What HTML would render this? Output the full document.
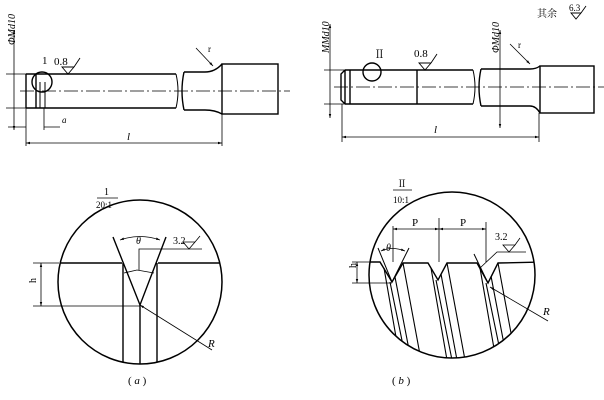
<!DOCTYPE html>
<html><head><meta charset="utf-8"><style>
body{margin:0;background:#fff;}
svg{display:block;}
text{font-family:"Liberation Serif","Noto Serif CJK SC",serif;fill:#000;}
</style></head><body>
<svg width="604" height="400" viewBox="0 0 604 400" xmlns="http://www.w3.org/2000/svg">
<defs>
<marker id="ar" viewBox="0 0 10 10" refX="10" refY="5" markerWidth="7" markerHeight="5" orient="auto-start-reverse"><path d="M0,2 L10,5 L0,8z" fill="#000"/></marker>
<clipPath id="cb"><circle cx="452" cy="275" r="83"/></clipPath>
<clipPath id="ca"><circle cx="140" cy="282" r="82"/></clipPath>
</defs>
<g stroke="#000" fill="none" stroke-width="1.4">
<!-- (a) top shaft -->
<path d="M26,74 L176,74 M26,108 L176,108 M26,74 L26,108 M36,74 L36,108"/>
<path d="M176,74 Q180,91 176,108" stroke-width="1"/>
<path d="M184,72 Q180,91 184,110"/>
<path d="M184,72 L205,72 Q215,72 222,64 M184,110 L205,110 Q215,110 222,114"/>
<rect x="222" y="64" width="56" height="50"/>
<circle cx="42" cy="82" r="10"/>
<path d="M40,82 L40,108 M45,82 L45,108" stroke-width="1"/>
<path d="M20,91 L290,91" stroke-width="0.8" stroke-dasharray="14,3,2,3"/>
<path d="M14,30 L14,130" stroke-width="0.8" marker-start="url(#ar)" marker-end="url(#ar)"/>
<path d="M6,74 L26,74 M6,108 L26,108" stroke-width="0.8"/>
<path d="M26,108 L26,146 M222,114 L222,146 M44,108 L44,130" stroke-width="0.8"/>
<path d="M8,127 L26,127 M44,127 L60,127" stroke-width="0.8"/>
<path d="M26,143 L222,143" stroke-width="0.8" marker-start="url(#ar)" marker-end="url(#ar)"/>
<path d="M196,48 L213,66" stroke-width="0.8" marker-end="url(#ar)"/>
<path d="M62,67 L74,67 L68,74 Z M74,67 L80,58" stroke-width="0.9"/>
<!-- (b) top shaft -->
<path d="M345,70 L473,70 M345,104 L473,104 M345,70 L345,104 M350,70 L350,104 M417,70 L417,104 M345,70 L341,74 L341,100 L345,104"/>
<path d="M473,70 Q477,87 473,104" stroke-width="1"/>
<path d="M481,69 Q477,87 481,106"/>
<path d="M481,69 L530,69 Q536,69 540,66 M481,106 L530,106 Q536,106 540,113"/>
<rect x="540" y="66" width="54" height="47"/>
<circle cx="372" cy="72" r="9"/>
<path d="M334,87 L604,87" stroke-width="0.8" stroke-dasharray="14,3,2,3"/>
<path d="M330,24 L330,118" stroke-width="0.8" marker-start="url(#ar)" marker-end="url(#ar)"/>
<path d="M324,70 L345,70 M324,104 L345,104" stroke-width="0.8"/>
<path d="M500,30 L500,128" stroke-width="0.8" marker-start="url(#ar)" marker-end="url(#ar)"/>
<path d="M342,104 L342,142 M539,113 L539,142" stroke-width="0.8"/>
<path d="M342,137 L539,137" stroke-width="0.8" marker-start="url(#ar)" marker-end="url(#ar)"/>
<path d="M510,44 L530,64" stroke-width="0.8" marker-end="url(#ar)"/>
<path d="M419,63 L431,63 L425,70 Z M431,63 L437,54" stroke-width="0.9"/>
<path d="M571,13 L581,13 L576,19 Z M581,13 L586,6" stroke-width="0.9"/>
<!-- (a) detail -->
<circle cx="140" cy="282" r="82" stroke-width="1.5"/>
<g clip-path="url(#ca)">
<path d="M56,263 L122,263 M158,263 L224,263"/>
<path d="M113,237 L140,305 L166,237"/>
<path d="M123,263 L123,366 M140,305 L140,366 M157,263 L157,366"/>
</g>
<path d="M120,240 Q140,233 160,240" stroke-width="0.8" marker-start="url(#ar)" marker-end="url(#ar)"/>
<path d="M124,273 L137,270 L154,273" stroke-width="0.8"/>
<path d="M139,270 L139,249 L202,249" stroke-width="0.8"/>
<path d="M183,242 L195,242 L189,249 Z M195,242 L200,236" stroke-width="0.8"/>
<path d="M33,263 L59,263 M33,306 L140,306" stroke-width="0.8"/>
<path d="M41,263 L41,306" stroke-width="0.8" marker-start="url(#ar)" marker-end="url(#ar)"/>
<path d="M212,350 L140,305" stroke-width="0.8" marker-end="url(#ar)"/>
<path d="M97,198 L118,198" stroke-width="0.8"/>
<!-- (b) detail -->
<circle cx="452" cy="275" r="83" stroke-width="1.5"/>
<g clip-path="url(#cb)">
<path d="M360,262 L380,262 L392,282 L403,263 L428,263 L438,280 L447,263 L477,263 L488,283 L498,263 L545,262"/>
<g stroke-width="1.1">
<path d="M384,268 L400,360 M390,282 L406,360 M395,277 L411,360 M403,263 L421,360"/>
<path d="M431,268 L447,360 M436,280 L452,360 M441,274 L457,360 M447,263 L465,360"/>
<path d="M480,268 L496,360 M486,283 L502,360 M491,276 L507,360 M498,263 L516,360"/>
</g>
</g>
<path d="M392,282 L378,248 M392,282 L409,248 M488,283 L474,254" stroke-width="1"/>
<path d="M381,251 Q392,246 405,251" stroke-width="0.8" marker-start="url(#ar)" marker-end="url(#ar)"/>
<path d="M393,226 L393,262 M439,218 L439,262 M486,222 L486,262" stroke-width="0.8"/>
<path d="M393,229 L439,229" stroke-width="0.8" marker-start="url(#ar)" marker-end="url(#ar)"/>
<path d="M439,229 L486,229" stroke-width="0.8" marker-start="url(#ar)" marker-end="url(#ar)"/>
<path d="M480,268 L497,252 L526,252" stroke-width="0.8"/>
<path d="M503,245 L515,245 L509,252 Z M515,245 L520,238" stroke-width="0.8"/>
<path d="M352,262 L372,262 M352,283 L392,283" stroke-width="0.8"/>
<path d="M357,262 L357,283" stroke-width="0.8" marker-start="url(#ar)" marker-end="url(#ar)"/>
<path d="M548,321 L490,287" stroke-width="0.8" marker-end="url(#ar)"/>
<path d="M393,190 L412,190" stroke-width="0.8"/>
</g>
<g font-size="11">
<text x="20" y="60" transform="rotate(-90 10 55)" font-style="italic" font-size="10">ΦMd10</text>
<text x="42" y="64" font-size="11">1</text>
<text x="54" y="65" font-size="11">0.8</text>
<text x="62" y="123" font-style="italic" font-size="9">a</text>
<text x="127" y="140" font-style="italic">l</text>
<text x="208" y="52" font-size="9">r</text>
<text x="330" y="62" transform="rotate(-90 325 58)" font-style="italic" font-size="10">MMd10</text>
<text x="500" y="62" transform="rotate(-90 495 58)" font-style="italic" font-size="10">ΦMd10</text>
<text x="374" y="58" font-size="11">Ⅱ</text>
<text x="414" y="57" font-size="11">0.8</text>
<text x="434" y="133" font-style="italic">l</text>
<text x="518" y="48" font-size="9">r</text>
<text x="537" y="17" font-size="10">其余</text>
<text x="569" y="11" font-size="9">6.3</text>
<text x="104" y="195" font-size="10">1</text>
<text x="96" y="208" font-size="9">20:1</text>
<text x="136" y="244" font-style="italic" font-size="10">θ</text>
<text x="173" y="244" font-size="10">3.2</text>
<text x="35" y="290" transform="rotate(-90 32 286)" font-size="10">h</text>
<text x="208" y="347" font-style="italic" font-size="11">R</text>
<text x="128" y="384" font-size="11">( <tspan font-style="italic">a</tspan> )</text>
<text x="397" y="187" font-size="10">Ⅱ</text>
<text x="393" y="203" font-size="9">10:1</text>
<text x="386" y="251" font-style="italic" font-size="10">θ</text>
<text x="412" y="226" font-size="11">P</text>
<text x="460" y="226" font-size="11">P</text>
<text x="495" y="240" font-size="10">3.2</text>
<text x="355" y="275" transform="rotate(-90 352 271)" font-size="10">h</text>
<text x="543" y="315" font-style="italic" font-size="11">R</text>
<text x="392" y="384" font-size="11">( <tspan font-style="italic">b</tspan> )</text>
</g>
</svg>
</body></html>
